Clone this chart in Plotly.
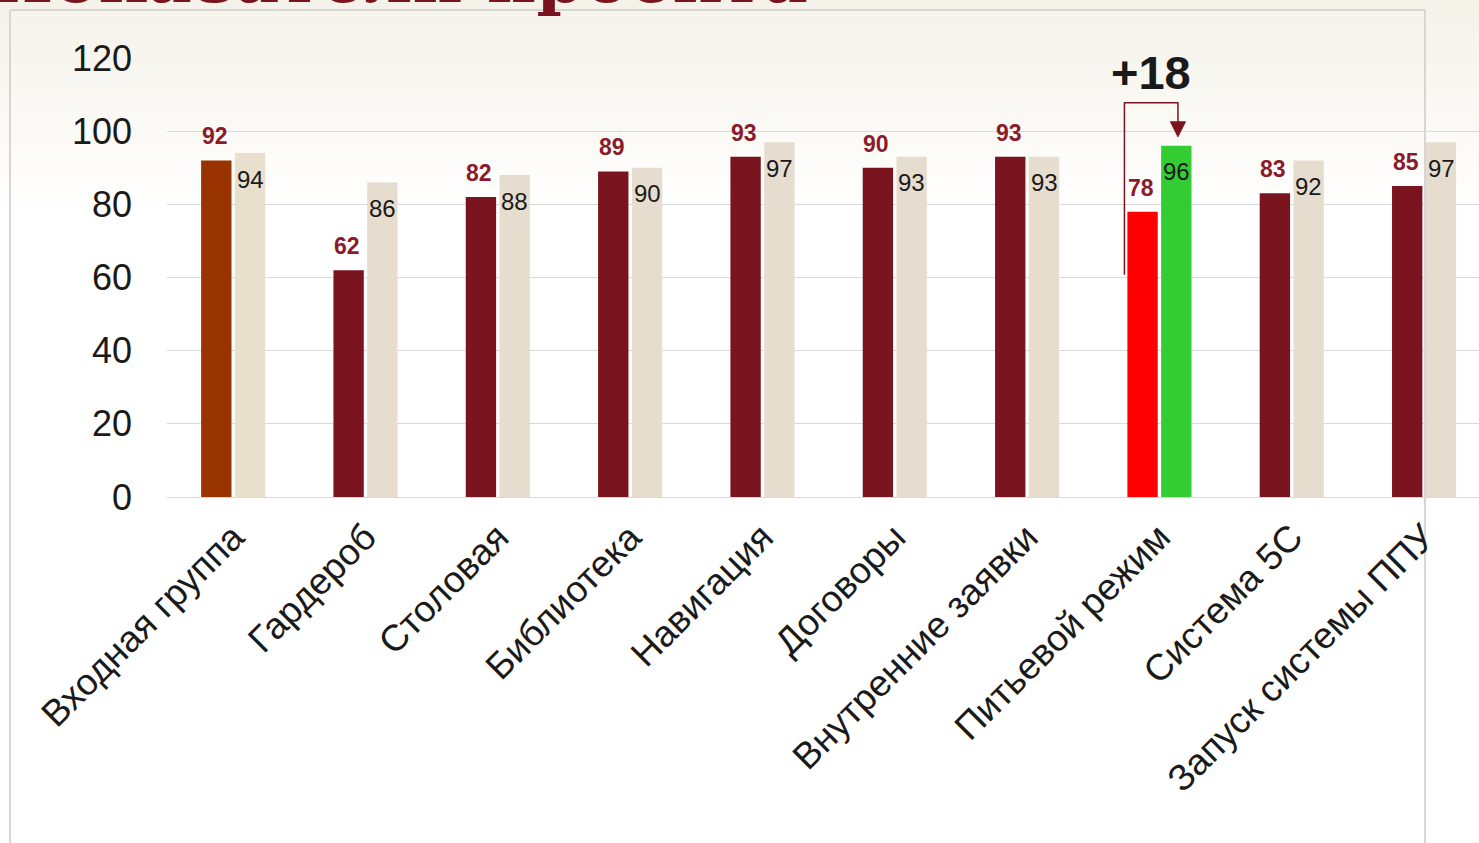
import plotly.graph_objects as go

# ---------------- data ----------------
categories = ["Входная группа", "Гардероб", "Столовая", "Библиотека", "Навигация",
              "Договоры", "Внутренние заявки", "Питьевой режим", "Система 5С",
              "Запуск системы ППУ"]
before = [92, 62, 82, 89, 93, 90, 93, 78, 83, 85]
after = [94, 86, 88, 90, 97, 93, 93, 96, 92, 97]
y_ticks = [0, 20, 40, 60, 80, 100, 120]
highlight = 7
title_text = "Показатели проекта"

# ---------------- style ----------------
W, H = 1479, 843
L, R, T, B = 167, 1479, 58, 497
XR = [-0.5, 9.415]
YR = [0, 120]
unit_x = (R - L) / (XR[1] - XR[0])
unit_y = (B - T) / (YR[1] - YR[0])

DARK = "#7A1520"
LABEL_RED = "#8B1A2B"
BEIGE = "#E6DDCF"
colors1 = [DARK] * len(categories)
colors1[0] = "#993300"
colors1[highlight] = "#FF0000"
colors2 = [BEIGE] * len(categories)
colors2[0] = "#E8E0CC"
colors2[highlight] = "#33CC33"


def px_x(p):
    return (p - L) / (R - L)


def px_y(p):
    return (B - p) / (B - T)


fig = go.Figure()
fig.add_trace(go.Bar(x=categories, y=before, marker=dict(color=colors1, line=dict(width=0)),
                     showlegend=False, hoverinfo="x+y"))
fig.add_trace(go.Bar(x=categories, y=after, marker=dict(color=colors2, line=dict(width=0)),
                     showlegend=False, hoverinfo="x+y"))

shapes = []
# background gradient bands
n_bands = 24
top_c = (245, 242, 233)
for k in range(n_bands):
    t = k / (n_bands - 1)
    c = tuple(int(round(top_c[j] + (255 - top_c[j]) * t)) for j in range(3))
    shapes.append(dict(type="rect", xref="paper", yref="paper",
                       x0=px_x(0), x1=px_x(W), y0=px_y(k * 9), y1=px_y((k + 1) * 9 + 1),
                       fillcolor="rgb(%d,%d,%d)" % c, line=dict(width=0), layer="below"))
# slide frame
frame_col = "#D6D6D6"
shapes.append(dict(type="line", xref="paper", yref="paper", x0=px_x(10), x1=px_x(10),
                   y0=px_y(10), y1=px_y(H), line=dict(color=frame_col, width=2), layer="below"))
shapes.append(dict(type="line", xref="paper", yref="paper", x0=px_x(10), x1=px_x(1425),
                   y0=px_y(10), y1=px_y(10), line=dict(color=frame_col, width=2), layer="below"))
shapes.append(dict(type="line", xref="paper", yref="paper", x0=px_x(1425), x1=px_x(1425),
                   y0=px_y(10), y1=px_y(H), line=dict(color=frame_col, width=2), layer="below"))

# bracket arrow over highlighted category
xl = highlight - 35 / unit_x
xr = highlight + 18.5 / unit_x
y_top = after[highlight] + 43 / unit_y
y_bot = before[highlight] - 63 / unit_y
y_tip = after[highlight] + 9 / unit_y
y_base = after[highlight] + 24 / unit_y
hw = 7.5 / unit_x
shapes.append(dict(type="path", xref="x", yref="y",
                   path=f"M {xl},{y_bot} L {xl},{y_top} L {xr},{y_top} L {xr},{y_base}",
                   line=dict(color=DARK, width=1.5), layer="above"))
shapes.append(dict(type="path", xref="x", yref="y",
                   path=f"M {xr - hw},{y_base} L {xr + hw},{y_base} L {xr},{y_tip} Z",
                   fillcolor=DARK, line=dict(color=DARK, width=1), layer="above"))

annotations = []
for i, cat in enumerate(categories):
    annotations.append(dict(x=cat, y=before[i], xref="x", yref="y", text=str(before[i]),
                            showarrow=False, xshift=-18.5, yshift=24, yanchor="middle",
                            font=dict(family="Liberation Sans", size=23, color=LABEL_RED,
                                      weight="bold")))
    annotations.append(dict(x=cat, y=after[i], xref="x", yref="y", text=str(after[i]),
                            showarrow=False, xshift=17, yshift=-26, yanchor="middle",
                            font=dict(family="Liberation Sans", size=24, color="#1A1A1A")))

annotations.append(dict(x=highlight, y=y_top, xref="x", yref="y",
                        text=f"+{after[highlight] - before[highlight]}",
                        showarrow=False, xshift=-8, yshift=30, yanchor="middle",
                        font=dict(family="Liberation Sans", size=47, color="#1A1A1A",
                                  weight="bold")))
annotations.append(dict(x=px_x(810), y=px_y(20), xref="paper", yref="paper", text=title_text,
                        showarrow=False, xanchor="right", yanchor="bottom",
                        font=dict(family="DejaVu Serif", size=68, color=DARK, weight="bold")))

fig.update_layout(
    width=W, height=H,
    margin=dict(l=L, r=W - R, t=T, b=H - B, pad=0),
    paper_bgcolor="white", plot_bgcolor="rgba(0,0,0,0)",
    barmode="group", bargap=0.49, bargroupgap=0.1,
    shapes=shapes, annotations=annotations,
    font=dict(family="Liberation Sans", color="#1A1A1A"),
)
fig.update_xaxes(range=XR, tickangle=-45, showgrid=False, showline=False, zeroline=False,
                 tickfont=dict(family="Liberation Sans", size=37, color="#1A1A1A"),
                 ticks="", ticklabelstandoff=10)
fig.update_yaxes(range=YR, tickvals=y_ticks, showgrid=True, gridcolor="#D9D9D9", gridwidth=1,
                 zeroline=True, zerolinecolor="#D9D9D9", zerolinewidth=1, showline=False,
                 tickfont=dict(family="Liberation Sans", size=36, color="#1A1A1A"),
                 ticks="", ticklabelstandoff=34)

fig.write_html("out.html", config={"displayModeBar": False},
               post_script="document.body.style.margin='0';document.body.style.overflow='hidden';")
